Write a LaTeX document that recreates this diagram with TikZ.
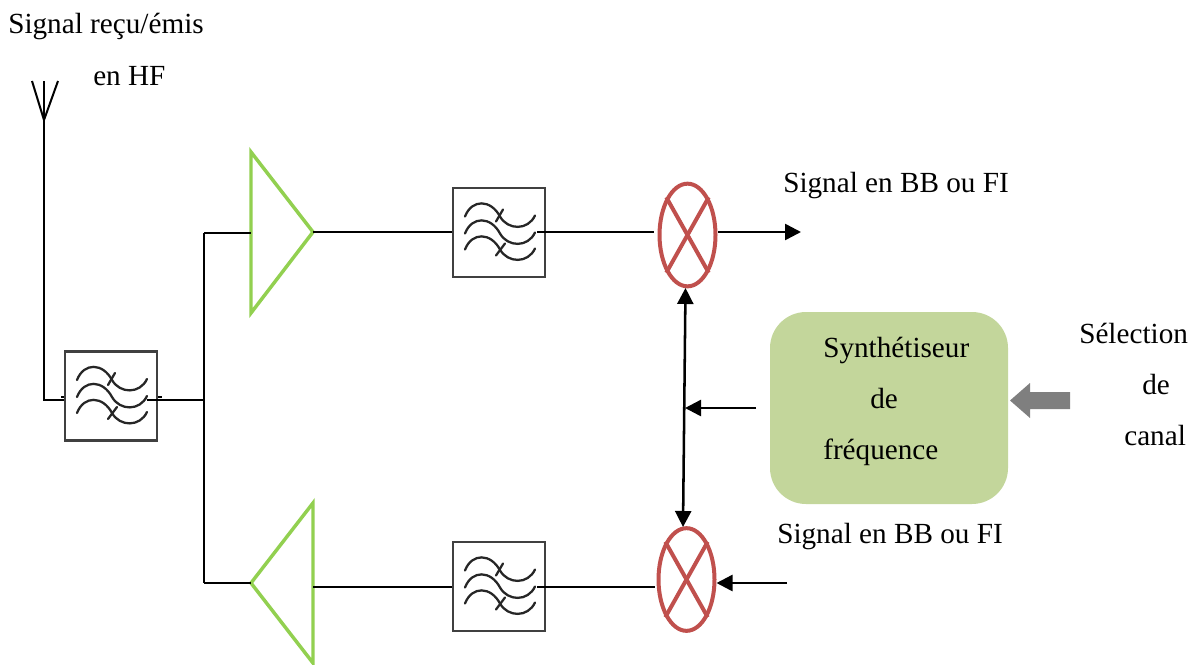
\documentclass[tikz,border=0pt]{standalone}
\usepackage{fontspec}
\setmainfont{Liberation Serif}
\usetikzlibrary{shapes.geometric,arrows.meta}
\definecolor{mixred}{HTML}{C0504D}
\definecolor{ampgreen}{HTML}{92D050}
\definecolor{synthgreen}{HTML}{C3D69B}
\definecolor{selgray}{HTML}{7F7F7F}
\tikzset{
  x=0.75pt,y=-0.75pt,
  lbl/.style={anchor=base west,inner sep=0pt,font=\fontsize{21.9pt}{24pt}\selectfont,text=black},
  wire/.style={draw=black,line width=1.5pt},
  arr/.style={draw=black,line width=1.9pt,-{Triangle[length=12pt,width=12pt]},shorten >=0pt},
  filterbox/.style={draw=black!75,line width=1.8pt,fill=white,minimum width=69pt,minimum height=67pt,inner sep=0pt},
  mixer/.style={ellipse,draw=mixred,line width=3pt,minimum width=42pt,minimum height=77pt,inner sep=0pt},
  amp/.style={draw=ampgreen,line width=2.6pt,miter limit=10},
  wave/.style={draw=black!85,line width=1.7pt,line cap=round},
  waves/.pic={
    \foreach \dy in {0,17,33}{
      \draw[wave] (-34,-16+\dy) .. controls (-27,-34+\dy) and (-8,-33+\dy) .. (1,-16+\dy)
        .. controls (9,-2+\dy) and (29,-2+\dy) .. (36,-17+\dy);
    }
    \draw[wave] (4,-23) -- (-3,-11);
    \draw[wave] (6,11) -- (-3,23);
  }
}
\begin{document}
\begin{tikzpicture}
\useasboundingbox (0,0) rectangle (1198,664);
% text
\node[lbl] (t1) at (8,33) {Signal reçu/émis};
\node[lbl] (t2) at (93,85) {en HF};
\node[lbl] (t3) at (783,192) {Signal en BB ou FI};
\node[lbl] (t4) at (777,543) {Signal en BB ou FI};
% synth box
\node[draw=none,fill=synthgreen,rounded corners=27pt,minimum width=178.5pt,minimum height=144pt,inner sep=0pt] (synth) at (889,408) {};
\node[lbl] (s1) at (823,357) {Synthétiseur};
\node[lbl] (s2) at (870,408) {de};
\node[lbl] (s3) at (823,459) {fréquence};
\node[lbl] (c1) at (1079,343) {Sélection};
\node[lbl] (c2) at (1142,394) {de};
\node[lbl] (c3) at (1124,445) {canal};
% filters
\node[filterbox] (f1) at (111,396) {};
\node[filterbox] (f2) at (499,232.5) {};
\node[filterbox] (f3) at (499,586.5) {};
% filter inner wire ends
\coordinate (f1in) at (147,399.5);
\coordinate (f2in) at (537,232);
\coordinate (f3in) at (537,587);
\draw[wire] (f1in) -- (157,399.5);
\draw[wire] (f2in) -- (f2.east |- f2in);
\draw[wire] (f3in) -- (f3.east |- f3in);
\pic at (f1) {waves};
\pic at (f2) {waves};
\pic at (f3) {waves};
% small stubs beside filter 1
\draw[wire,line width=1.8pt] (61,397) -- (f1.west |- 61,397);
\draw[wire,line width=1.8pt] (f1.east |- 162,397) -- (162,397);
% mixers
\node[mixer] (m1) at (687.5,235) {};
\node[mixer] (m2) at (686.5,579.5) {};
\foreach \m in {m1,m2}{
  \draw[mixred,line width=3pt] (\m.north west) -- (\m.south east);
  \draw[mixred,line width=3pt] (\m.north east) -- (\m.south west);
}
% amplifiers
\coordinate (a1a) at (251,152); \coordinate (a1b) at (313,232); \coordinate (a1c) at (251,313);
\coordinate (a2a) at (313,503); \coordinate (a2b) at (251,583); \coordinate (a2c) at (313,663);
\coordinate (a2o) at (313,587);
\coordinate (a1i) at (251,233);
\draw[amp] (a1a) -- (a1b) -- (a1c) -- cycle;
\draw[amp] (a2a) -- (a2b) -- (a2c) -- cycle;
% antenna
\coordinate (antfoot) at (44,120);
\coordinate (antl) at (32,81);
\coordinate (antr) at (58,81);
\coordinate (antc) at (44,81);
\coordinate (fin) at (64,399.5);
\coordinate (fout) at (157,399.5);
\coordinate (bus) at (204,399.5);
\coordinate (bust) at (204,233);
\coordinate (busb) at (204,583);
\draw[wire] (antl) -- (antfoot) -- (antr);
\draw[wire] (antc) -- (antfoot);
\draw[wire] (antfoot) -- (44,399.5) -- (fin);
\draw[wire] (fout) -- (bus);
\draw[wire] (bust) -- (busb);
\draw[wire] (bust) -- (a1i);
\draw[wire] (busb) -- (a2b);
% signal path
\draw[wire] (a1b) -- (f2.west |- a1b);
\draw[wire] (f2.east |- a1b) -- (654,232);
\draw[arr] (718,232) -- (801,232);
\draw[wire] (a2o) -- (f3.west |- a2o);
\draw[wire] (f3.east |- a2o) -- (655,587);
% LO
\coordinate (lotop) at (685.5,288);
\coordinate (lobot) at (683,527);
\draw[arr,{Triangle[length=12pt,width=12pt]}-{Triangle[length=12pt,width=12pt]}] (lotop) -- (lobot);
\coordinate (loj) at (685,408);
\coordinate (sl) at (756,408);
\draw[arr] (sl) -- (loj);
\coordinate (inr) at (787,583);
\draw[arr] (inr) -- (m2.east |- inr);
% selection arrow
\coordinate (selr) at (1070,400.5);
\fill[selgray] (selr) ++(0,-8.5) -- ++(-40,0) -- ++(0,-9) -- (1010,400.5) -- (1030,418) -- ++(0,-9) -- (1070,409) -- cycle;
\end{tikzpicture}
\end{document}
